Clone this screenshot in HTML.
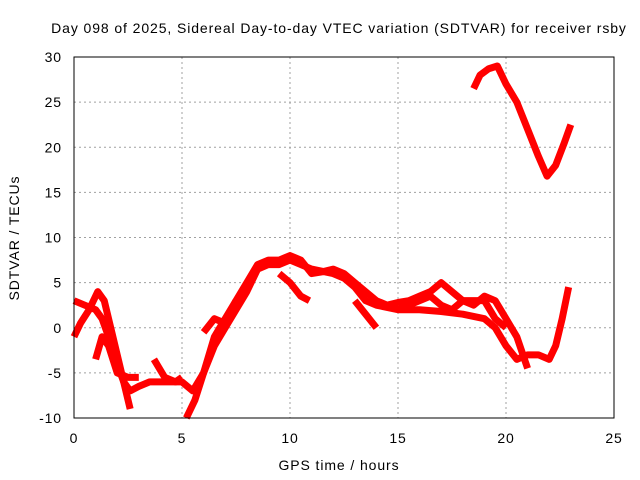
<!DOCTYPE html>
<html><head><meta charset="utf-8"><style>
body{margin:0;background:#fff}
svg{display:block;font-family:"Liberation Sans",sans-serif;font-size:14px;letter-spacing:0.9px}
</style></head><body>
<svg id="chart" width="640" height="480" viewBox="0 0 640 480">
<text x="339" y="33" text-anchor="middle">Day 098 of 2025, Sidereal Day-to-day VTEC variation (SDTVAR) for receiver rsby</text>
<g id="grid"></g>
<g id="series"></g>
<rect x="74" y="57" width="540" height="361" fill="none" stroke="#000" stroke-width="1"/>
<g id="ticks"></g>
<text x="339" y="470" text-anchor="middle">GPS time / hours</text>
<text transform="translate(19,238) rotate(-90)" text-anchor="middle">SDTVAR / TECUs</text>
</svg>
<script>
const xTicks=[0,5,10,15,20,25];
const yTicks=[-10,-5,0,5,10,15,20,25,30];
const traceA=[[0,3],[0.5,2.5],[1,2],[1.3,1],[1.6,-1],[2,-4],[2.3,-6],[2.6,-7],[3,-6.5],[3.5,-6],[4,-6],[4.5,-6],[5,-6],[5.5,-7],[6,-5],[6.5,-2],[7,0],[7.5,2],[8,4],[8.5,6.5],[9,7],[9.5,7],[10,7.5],[10.5,7],[11,6.5],[12,6],[12.5,5.5],[13,4.5],[13.5,3],[14,2.5],[15,2],[16,2],[17,1.8],[18,1.5],[19,1],[19.5,0],[20,-2],[20.5,-3.5],[21,-3],[21.5,-3],[22,-3.5],[22.3,-2],[22.6,1],[22.9,4.5]];
const traceB=[[0,-1],[0.3,0.5],[0.7,2],[1.1,4],[1.4,3],[1.7,0],[2,-3],[2.3,-6],[2.6,-9]];
const traceC=[[1,-3.5],[1.3,-1],[1.6,-2],[2,-5],[2.5,-5.5],[3,-5.5]];
const traceD=[[3.7,-3.5],[4.2,-5.5],[4.7,-6],[5,-5.5]];
const traceE=[[5.2,-10],[5.6,-8],[6,-5],[6.5,-1],[7,1],[7.5,3],[8,5],[8.5,7],[9,7.5],[9.5,7.5],[10,8],[10.5,7.5],[11,6],[11.5,6.2],[12,6.5],[12.5,6],[13,5],[13.5,4],[14,3],[14.5,2.5],[15,2.8],[15.5,3],[16,3.5],[16.5,4],[17,5],[17.5,4],[18,3],[18.5,2.5],[19,3.5],[19.5,3],[20,1],[20.5,-1],[21,-4.5]];
const traceF=[[6,-0.5],[6.5,1],[7,0.5],[7.5,3]];
const traceG=[[9.5,6],[10,5],[10.5,3.5],[10.9,3]];
const traceH=[[13,3],[13.5,1.5],[14,0]];
const traceI=[[15,2],[16,3],[16.5,3.5],[17,2.5],[17.5,2],[18,3],[19,3],[19.5,1],[20,0]];
const traceJ=[[18.5,26.5],[18.8,28],[19.2,28.7],[19.6,29],[20,27],[20.5,25],[21,22],[21.5,19],[21.9,16.8],[22.3,18],[22.7,20.5],[23,22.5]];
const traces=[traceA,traceB,traceC,traceD,traceE,traceF,traceG,traceH,traceI,traceJ];
const X=v=>74+v*540/25, Y=v=>418-(v+10)*361/40;
const NS="http://www.w3.org/2000/svg";
const grid=document.getElementById('grid'),ticks=document.getElementById('ticks'),ser=document.getElementById('series');
function mk(tag,attrs,parent){const e=document.createElementNS(NS,tag);for(const k in attrs)e.setAttribute(k,attrs[k]);parent.appendChild(e);return e;}
xTicks.forEach(t=>{
  const x=X(t);
  if(t>0&&t<25){const g=mk('line',{x1:x,x2:x,y1:57,y2:418,stroke:'#a0a0a0','stroke-dasharray':'2,3'},grid);
  
  }
  const l=mk('text',{x:x,y:443,'text-anchor':'middle'},ticks);l.textContent=t;
  
  
});
yTicks.forEach(t=>{
  const y=Y(t);
  if(t>-10&&t<30){const g=mk('line',{x1:74,x2:614,y1:y,y2:y,stroke:'#a0a0a0','stroke-dasharray':'2,3'},grid);
  
  }
  const l=mk('text',{x:62,y:y+5,'text-anchor':'end'},ticks);l.textContent=t;
  
  
});
traces.forEach(tr=>{
  const p=mk('polyline',{points:tr.map(d=>X(d[0])+','+Y(d[1])).join(' '),fill:'none',stroke:'#ff0000','stroke-width':7,'stroke-linejoin':'round','stroke-linecap':'butt'},ser);
  
  
});
</script>
</body></html>
